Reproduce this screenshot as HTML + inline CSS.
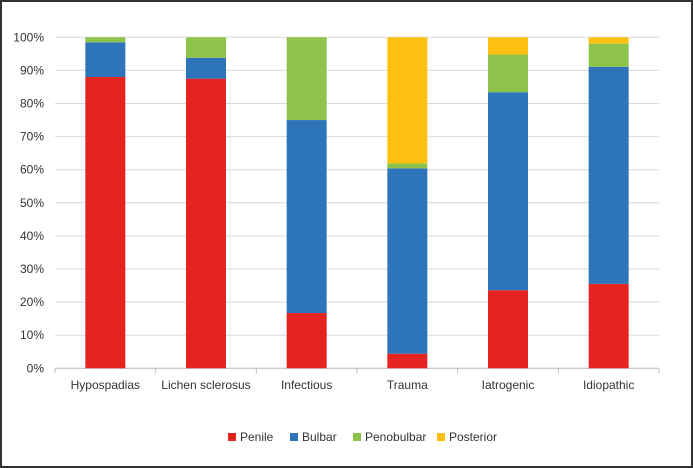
<!DOCTYPE html>
<html><head><meta charset="utf-8"><style>
body{margin:0;background:#fff;}
svg{display:block;font-family:"Liberation Sans",sans-serif;}
</style></head><body>
<svg id="c" width="693" height="468">
<rect x="1" y="1" width="691" height="466" fill="#fff" stroke="#333" stroke-width="2"/>
<g id="grid"></g><g id="bars"></g><g id="axes"></g><g id="legend"></g>
</svg>
<script>
const categories=["Hypospadias","Lichen sclerosus","Infectious","Trauma","Iatrogenic","Idiopathic"];
const seriesNames=["Penile","Bulbar","Penobulbar","Posterior"];
const penile=[88,87.5,16.7,4.4,23.6,25.5];
const bulbar=[10.5,6.3,58.3,56,59.8,65.6];
const penobulbar=[1.5,6.2,25,1.5,11.4,7];
const posterior=[0,0,0,38.1,5.2,1.9];
const yTicks=[0,10,20,30,40,50,60,70,80,90,100];
const colors=["#e52421","#2e74b8","#8dc34a","#fdbf10"];
const ns="http://www.w3.org/2000/svg";
const X0=55,X1=659,Y0=368.3,Y1=37.3;
const bw=(X1-X0)/categories.length;
const y=v=>Y0-(v/100)*(Y0-Y1);
const xc=i=>X0+bw*(i+0.5);
function mk(t,a,p){const e=document.createElementNS(ns,t);for(const k in a)e.setAttribute(k,a[k]);p.appendChild(e);return e;}
const G=document.getElementById('grid'),B=document.getElementById('bars'),A=document.getElementById('axes'),L=document.getElementById('legend');
yTicks.forEach(t=>{
 const l=mk('line',{x1:X0,x2:X1,y1:y(t),y2:y(t),stroke:t===0?'#bbb':'#d9d9d9','stroke-width':1},G);
 
 
 const tx=mk('text',{x:44,y:y(t)+4,'text-anchor':'end','font-size':12,fill:'#333'},A);
 tx.textContent=t+'%';
 
 
});
for(let i=0;i<=categories.length;i++){
 const tk=mk('line',{x1:X0+bw*i,x2:X0+bw*i,y1:Y0,y2:Y0+5,stroke:'#bbb'},A);
 
 
}
const series=[penile,bulbar,penobulbar,posterior];
categories.forEach((c,i)=>{
 let acc=0;
 series.forEach((s,k)=>{
  const v=s[i];if(v<=0)return;
  const r=mk('rect',{x:xc(i)-20,width:40,y:y(acc+v),height:y(acc)-y(acc+v),fill:colors[k]},B);
  
  
  acc+=v;
 });
 const t=mk('text',{x:xc(i),y:389,'text-anchor':'middle','font-size':12,fill:'#333'},A);
 t.textContent=c;
 
 
});
const lx=[228,290,353,437];
seriesNames.forEach((n,k)=>{
 const r=mk('rect',{x:lx[k],y:433,width:8,height:8,fill:colors[k]},L);
 
 
 const t=mk('text',{x:lx[k]+12,y:441,'font-size':12,fill:'#333'},L);
 t.textContent=n;
 
 
});
</script>
</body></html>
